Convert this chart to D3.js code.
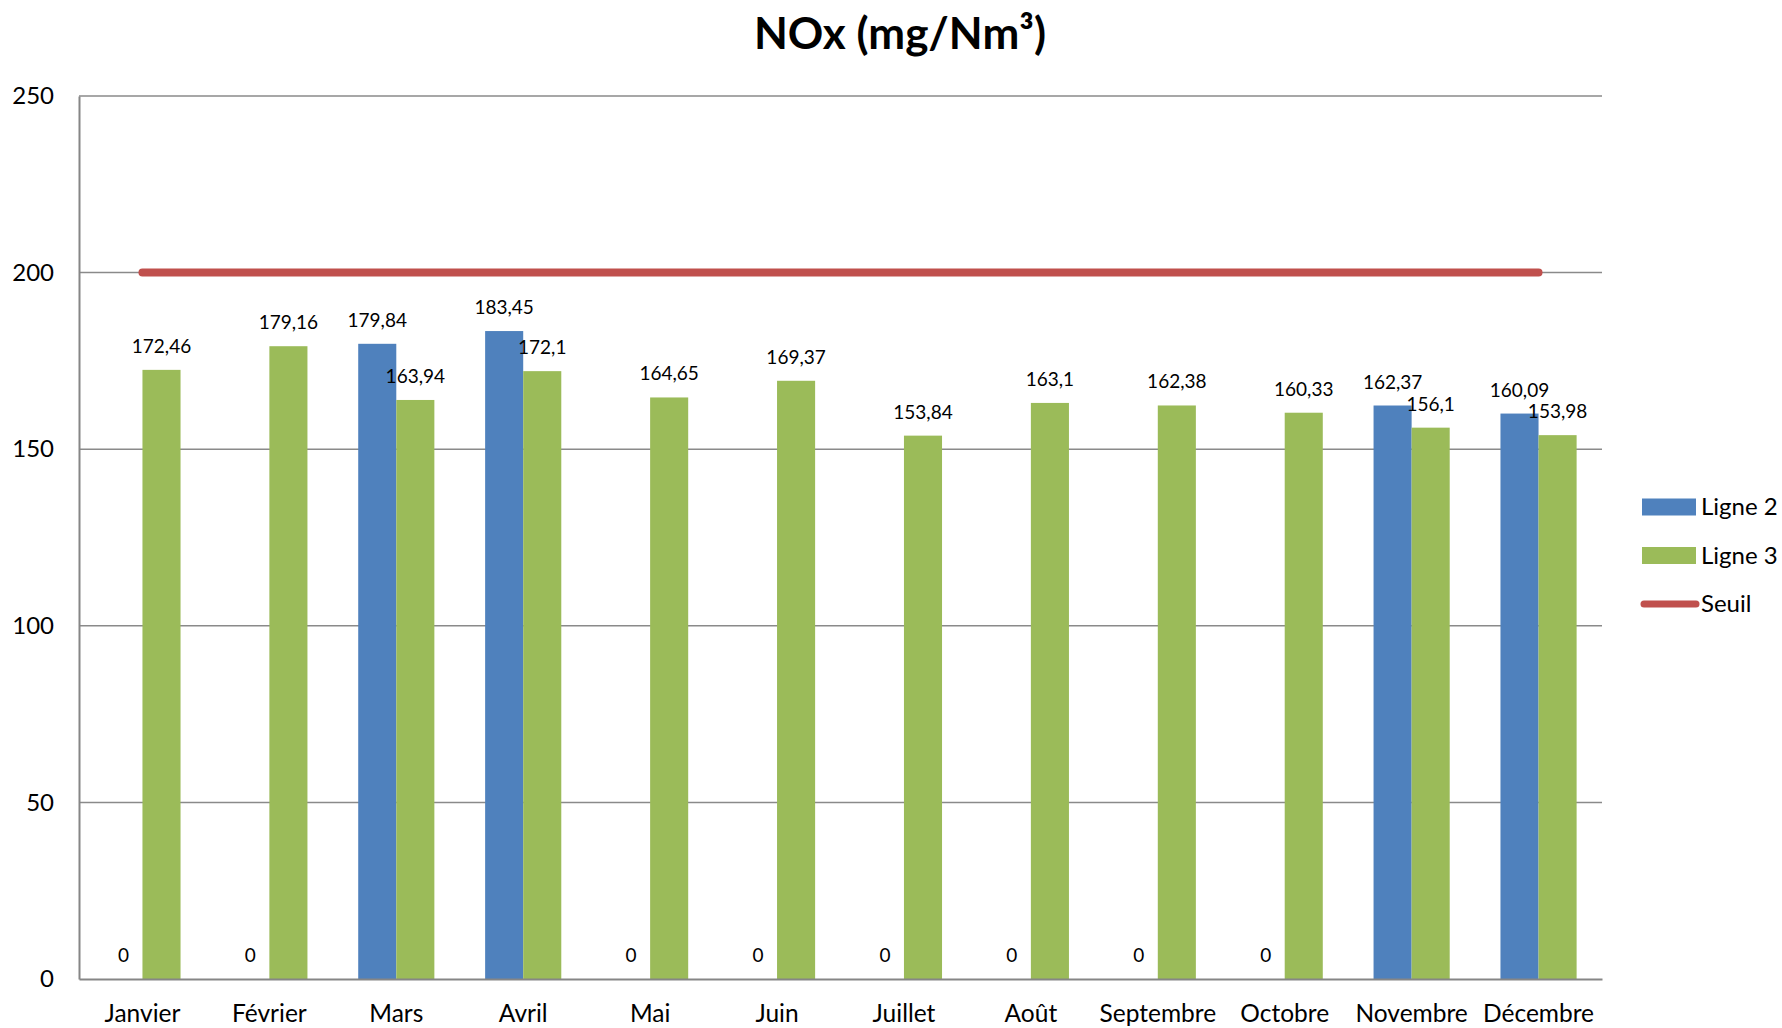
<!DOCTYPE html>
<html>
<head>
<meta charset="utf-8">
<script src="https://cdn.jsdelivr.net/npm/d3@7"></script>
<style>
  html, body { margin: 0; padding: 0; background: #fff; }
  svg { display: block; font-family: Lato, "Open Sans", sans-serif; }
</style>
</head>
<body>
<svg id="chart" width="1782" height="1028"></svg>
<script>
// Monthly NOx concentrations (mg/Nm³) for the two lines, plus the regulatory limit
const months = ["Janvier", "Février", "Mars", "Avril", "Mai", "Juin", "Juillet", "Août", "Septembre", "Octobre", "Novembre", "Décembre"];
const ligne2 = [0, 0, 179.84, 183.45, 0, 0, 0, 0, 0, 0, 162.37, 160.09];
const ligne3 = [172.46, 179.16, 163.94, 172.1, 164.65, 169.37, 153.84, 163.1, 162.38, 160.33, 156.1, 153.98];
const seuil = [200, 200, 200, 200, 200, 200, 200, 200, 200, 200, 200, 200];
const yTicks = [0, 50, 100, 150, 200, 250];
const seriesNames = ["Ligne 2", "Ligne 3", "Seuil"];
const colors = { "Ligne 2": "#4F81BD", "Ligne 3": "#9BBB59", "Seuil": "#C0504D" };

const svg = d3.select("#chart");
const plot = { left: 79, right: 1602, top: 96, bottom: 979 };

const x = d3.scaleBand().domain(months).range([plot.left, plot.right]).paddingInner(0.4).paddingOuter(0.2);
const xs = d3.scaleBand().domain(["Ligne 2", "Ligne 3"]).range([0, x.bandwidth()]);
const y = d3.scaleLinear().domain([0, 250]).range([plot.bottom, plot.top]);

const fmt = v => String(v).replace(".", ",");

// Title
svg.append("text")
  .attr("x", 900).attr("y", 49)
  .attr("text-anchor", "middle")
  .attr("font-size", 44).attr("font-weight", 700)
  .text("NOx (mg/Nm³)");

// Horizontal gridlines
svg.append("g")
  .selectAll("line")
  .data(yTicks.filter(t => t > 0))
  .join("line")
  .attr("x1", plot.left).attr("x2", plot.right)
  .attr("y1", d => y(d)).attr("y2", d => y(d))
  .attr("stroke", "#8a8a8a").attr("stroke-width", 1.5);

// Y axis
const yAxis = svg.append("g")
  .attr("transform", `translate(${plot.left},0)`)
  .call(d3.axisLeft(y).tickValues(yTicks).tickSize(0).tickPadding(25));
yAxis.select(".domain").attr("stroke", "#868686").attr("stroke-width", 2);
yAxis.selectAll("text").attr("font-size", 24).attr("fill", "#000").attr("font-family", "Lato, sans-serif");

// Bars
const rows = months.map((m, i) => ({ month: m, values: [
  { key: "Ligne 2", value: ligne2[i] },
  { key: "Ligne 3", value: ligne3[i] }
]}));

const groups = svg.append("g").selectAll("g")
  .data(rows)
  .join("g")
  .attr("transform", d => `translate(${x(d.month)},0)`);

groups.selectAll("rect")
  .data(d => d.values)
  .join("rect")
  .attr("x", d => xs(d.key))
  .attr("width", xs.bandwidth())
  .attr("y", d => y(d.value))
  .attr("height", d => y(0) - y(d.value))
  .attr("fill", d => colors[d.key]);

groups.selectAll("text")
  .data(d => d.values)
  .join("text")
  .attr("x", d => xs(d.key) + xs.bandwidth() / 2)
  .attr("y", d => y(d.value) - 17)
  .attr("text-anchor", "middle")
  .attr("font-size", 19)
  .attr("fill", "#000")
  .text(d => fmt(d.value));

// X axis
const xAxis = svg.append("g")
  .attr("transform", `translate(0,${plot.bottom})`)
  .call(d3.axisBottom(x).tickSize(0).tickPadding(26));
xAxis.select(".domain").attr("stroke", "#868686").attr("stroke-width", 2);
xAxis.selectAll("text").attr("font-size", 24.5).attr("fill", "#000").attr("font-family", "Lato, sans-serif");

// Threshold line
const line = d3.line().x((d, i) => x(months[i]) + x.bandwidth() / 2).y(d => y(d));
svg.append("path")
  .datum(seuil)
  .attr("d", line)
  .attr("fill", "none")
  .attr("stroke", colors["Seuil"])
  .attr("stroke-width", 8)
  .attr("stroke-linecap", "round");

// Legend
const legend = svg.append("g").attr("transform", "translate(1642,507)");
const items = legend.selectAll("g").data(seriesNames).join("g")
  .attr("transform", (d, i) => `translate(0,${i * 48.5})`);
items.filter(d => d !== "Seuil").append("rect")
  .attr("x", 0).attr("y", -8.5).attr("width", 54).attr("height", 17)
  .attr("fill", d => colors[d]);
items.filter(d => d === "Seuil").append("line")
  .attr("x1", 2).attr("x2", 54).attr("y1", 0).attr("y2", 0)
  .attr("stroke", d => colors[d]).attr("stroke-width", 7).attr("stroke-linecap", "round");
items.append("text")
  .attr("x", 59).attr("y", 0).attr("dy", "0.35em")
  .attr("font-size", 24).attr("fill", "#000")
  .text(d => d);
</script>
</body>
</html>
